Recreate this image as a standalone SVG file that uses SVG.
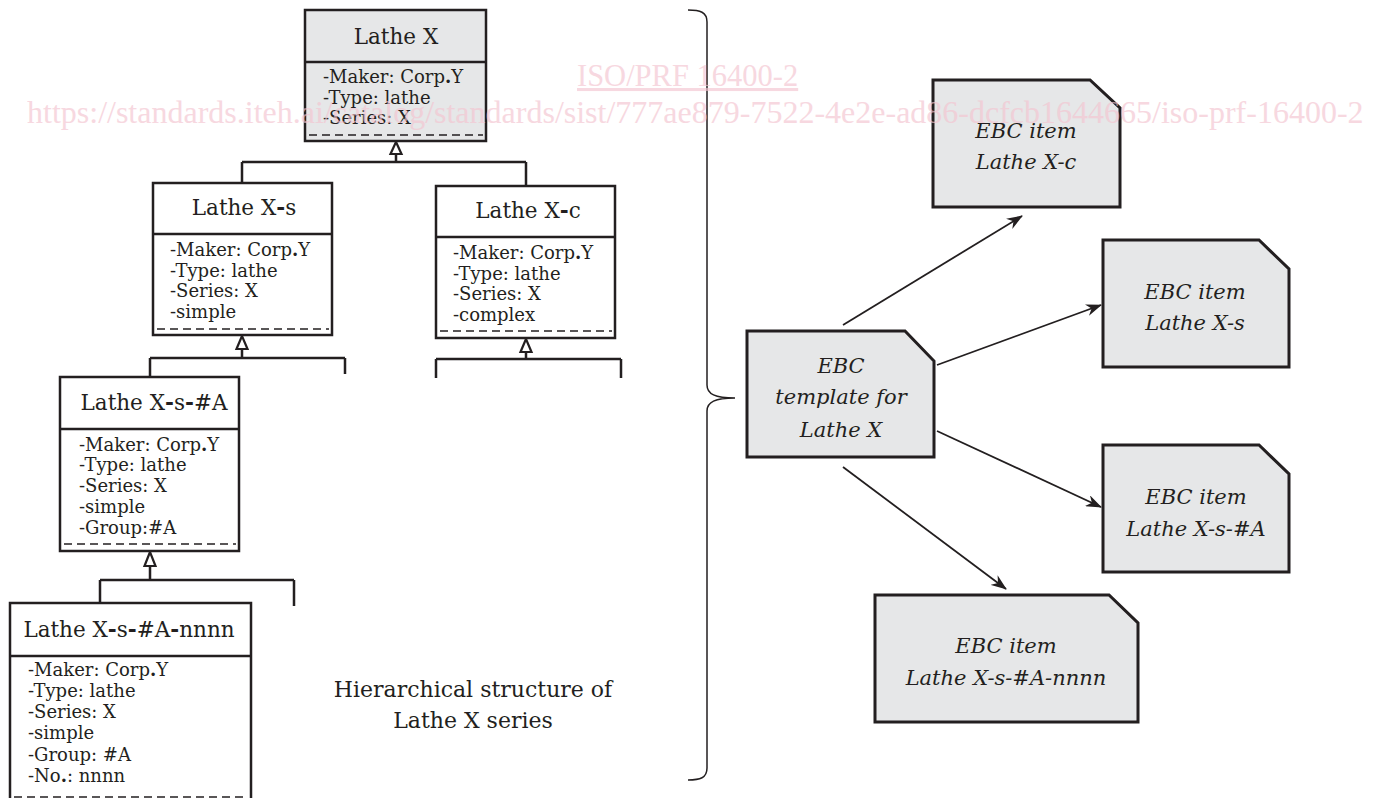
<svg xmlns="http://www.w3.org/2000/svg" width="1376" height="798" viewBox="0 0 1376 798">
<style>
.box{fill:#ffffff;stroke:#231f20;stroke-width:2.5}
.boxg{fill:#e6e7e8;stroke:#231f20;stroke-width:2.5}
.div{stroke:#231f20;stroke-width:2.5}
.dash{stroke:#231f20;stroke-width:1.5;stroke-dasharray:8 5}
.title{font-family:"DejaVu Serif","Liberation Serif",serif;font-size:21.5px;fill:#231f20;text-anchor:middle}
.attr{font-family:"DejaVu Serif","Liberation Serif",serif;font-size:18px;fill:#231f20}
.b{font-weight:bold}
.conn{fill:none;stroke:#231f20;stroke-width:2.5}
.tri{fill:#ffffff;stroke:#231f20;stroke-width:2.2;stroke-linejoin:miter}
.ebc{fill:#e6e7e8;stroke:#231f20;stroke-width:3;stroke-linejoin:miter}
.ebct{font-family:"DejaVu Serif","Liberation Serif",serif;font-style:italic;font-size:21px;fill:#231f20;text-anchor:middle}
.arr{fill:none;stroke:#231f20;stroke-width:1.8;marker-end:url(#ah)}
.brace{fill:none;stroke:#231f20;stroke-width:1.5}
.cap{font-family:"DejaVu Serif","Liberation Serif",serif;font-size:22px;fill:#231f20;text-anchor:middle}
.wm{font-family:"Liberation Serif",serif;fill:#f4c4d0;opacity:0.65}
</style>
<defs>
<marker id="ah" viewBox="0 0 16 12" refX="15" refY="6" markerWidth="16" markerHeight="12" markerUnits="userSpaceOnUse" orient="auto">
<path d="M0,0 L16,6 L0,12 L5,6 Z" fill="#231f20"/>
</marker>
</defs>
<rect width="1376" height="798" fill="#ffffff"/>

<g id="connectors">
<path class="conn" d="M396,154 V162 M242,162 H526 M242,162 V183 M526,162 V186"/>
<polygon class="tri" points="396,142 390.5,154 401.5,154"/>
<path class="conn" d="M242,349 V358 M150,358 H345 M150,358 V377 M345,358 V374"/>
<polygon class="tri" points="242,336 236.5,349 247.5,349"/>
<path class="conn" d="M526,352 V359 M436,359 H621 M436,359 V378 M621,359 V378"/>
<polygon class="tri" points="526,339 520.5,352 531.5,352"/>
<path class="conn" d="M150,566 V580 M100,580 H294 M100,580 V603 M294,580 V606"/>
<polygon class="tri" points="150,552 144.5,566 155.5,566"/>
<line class="arr" x1="843" y1="325" x2="1022" y2="216"/>
<line class="arr" x1="937" y1="365" x2="1101" y2="305"/>
<line class="arr" x1="937" y1="431" x2="1101" y2="507"/>
<line class="arr" x1="843" y1="467" x2="1006" y2="589"/>
<path class="brace" d="M688,10 C700,10 707,12 707,22 V385 C707,394 715,398 735,398 C715,398 707,402 707,411 V768 C707,778 700,780 688,780"/>
</g>

<g id="lathe-x">
<rect class="boxg" x="305" y="10" width="181" height="131"/>
<line class="div" x1="305" y1="62" x2="486" y2="62"/>
<line class="dash" x1="309" y1="135" x2="483" y2="135"/>
<text class="title" x="396" y="44">Lathe X</text>
<text class="attr" x="323" y="83">-Maker: Corp<tspan class="b">.</tspan>Y</text>
<text class="attr" x="323" y="104">-Type: lathe</text>
<text class="attr" x="323" y="124">-Series: X</text>
</g>

<g id="lathe-x-s">
<rect class="box" x="153" y="183" width="179" height="152"/>
<line class="div" x1="153" y1="234" x2="332" y2="234"/>
<line class="dash" x1="157" y1="329" x2="329" y2="329"/>
<text class="title" x="244" y="215">Lathe X<tspan class="b">-</tspan>s</text>
<text class="attr" x="170" y="256">-Maker: Corp<tspan class="b">.</tspan>Y</text>
<text class="attr" x="170" y="277">-Type: lathe</text>
<text class="attr" x="170" y="297">-Series: X</text>
<text class="attr" x="170" y="318">-simple</text>
</g>

<g id="lathe-x-c">
<rect class="box" x="436" y="186" width="179" height="152"/>
<line class="div" x1="436" y1="237" x2="615" y2="237"/>
<line class="dash" x1="440" y1="331" x2="612" y2="331"/>
<text class="title" x="528" y="218">Lathe X<tspan class="b">-</tspan>c</text>
<text class="attr" x="453" y="259">-Maker: Corp<tspan class="b">.</tspan>Y</text>
<text class="attr" x="453" y="280">-Type: lathe</text>
<text class="attr" x="453" y="300">-Series: X</text>
<text class="attr" x="453" y="321">-complex</text>
</g>

<g id="lathe-x-s-a">
<rect class="box" x="60" y="377" width="179" height="174"/>
<line class="div" x1="60" y1="429" x2="239" y2="429"/>
<line class="dash" x1="64" y1="544" x2="236" y2="544"/>
<text class="title" x="154" y="410">Lathe X<tspan class="b">-</tspan>s<tspan class="b">-</tspan>#A</text>
<text class="attr" x="79" y="451">-Maker: Corp<tspan class="b">.</tspan>Y</text>
<text class="attr" x="79" y="471">-Type: lathe</text>
<text class="attr" x="79" y="492">-Series: X</text>
<text class="attr" x="79" y="513">-simple</text>
<text class="attr" x="79" y="534">-Group:#A</text>
</g>

<g id="lathe-x-s-a-nnnn">
<rect class="box" x="10" y="603" width="241" height="205"/>
<line class="div" x1="10" y1="656" x2="251" y2="656"/>
<line class="dash" x1="14" y1="797" x2="248" y2="797"/>
<text class="title" x="129" y="637">Lathe X<tspan class="b">-</tspan>s<tspan class="b">-</tspan>#A<tspan class="b">-</tspan>nnnn</text>
<text class="attr" x="28" y="676">-Maker: Corp<tspan class="b">.</tspan>Y</text>
<text class="attr" x="28" y="697">-Type: lathe</text>
<text class="attr" x="28" y="718">-Series: X</text>
<text class="attr" x="28" y="739">-simple</text>
<text class="attr" x="28" y="761">-Group: #A</text>
<text class="attr" x="28" y="782">-No<tspan class="b">.</tspan>: nnnn</text>
</g>

<g id="caption">
<text class="cap" x="473" y="697">Hierarchical structure of</text>
<text class="cap" x="473" y="728">Lathe X series</text>
</g>

<g id="ebc-template">
<path class="ebc" d="M747,331 H905 L934,361 V457 H747 Z"/>
<text class="ebct" x="841" y="373">EBC</text>
<text class="ebct" x="841" y="404">template for</text>
<text class="ebct" x="841" y="437">Lathe X</text>
</g>

<g id="ebc-x-c">
<path class="ebc" d="M933,80 H1090 L1120,108 V207 H933 Z"/>
<text class="ebct" x="1026" y="138">EBC item</text>
<text class="ebct" x="1026" y="169">Lathe X-c</text>
</g>

<g id="ebc-x-s">
<path class="ebc" d="M1103,240 H1259 L1289,269 V367 H1103 Z"/>
<text class="ebct" x="1195" y="299">EBC item</text>
<text class="ebct" x="1195" y="330">Lathe X-s</text>
</g>

<g id="ebc-x-s-a">
<path class="ebc" d="M1103,445 H1259 L1289,474 V572 H1103 Z"/>
<text class="ebct" x="1196" y="504">EBC item</text>
<text class="ebct" x="1196" y="536">Lathe X-s-#A</text>
</g>

<g id="ebc-x-s-a-nnnn">
<path class="ebc" d="M875,595 H1109 L1138,623 V722 H875 Z"/>
<text class="ebct" x="1006" y="653">EBC item</text>
<text class="ebct" x="1006" y="685">Lathe X-s-#A-nnnn</text>
</g>

<g id="watermark">
<text class="wm" x="577" y="86" font-size="30.5" text-decoration="underline">ISO/PRF 16400-2</text>
<text class="wm" x="27" y="123" font-size="32">https://standards.iteh.ai/catalog/standards/sist/777ae879-7522-4e2e-ad86-dcfcb1644665/iso-prf-16400-2</text>
</g>
</svg>
